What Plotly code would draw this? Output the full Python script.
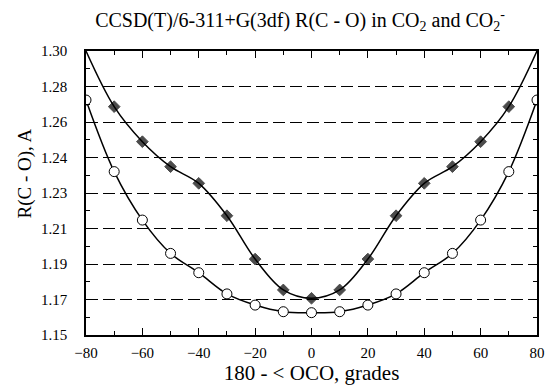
import plotly.graph_objects as go

# Data
angle = [-80, -70, -60, -50, -40, -30, -20, -10, 0, 10, 20, 30, 40, 50, 60, 70, 80]
r_anion = [1.300, 1.2706, 1.2521, 1.2389, 1.2301, 1.2130, 1.1901, 1.1738, 1.1694,
           1.1738, 1.1901, 1.2130, 1.2301, 1.2389, 1.2521, 1.2706, 1.300]
r_neutral = [1.2741, 1.2363, 1.2107, 1.1931, 1.1829, 1.1717, 1.1658, 1.1623, 1.1618,
             1.1623, 1.1658, 1.1717, 1.1829, 1.1931, 1.2107, 1.2363, 1.2741]

y_tickvals = [1.15, 1.16875, 1.1875, 1.20625, 1.225, 1.24375, 1.2625, 1.28125, 1.30]
y_ticktext = ["1.15", "1.17", "1.19", "1.21", "1.23", "1.24", "1.26", "1.28", "1.30"]
x_tickvals = [-80, -60, -40, -20, 0, 20, 40, 60, 80]

FONT = "Liberation Serif, Times New Roman, serif"

# the end points of the anion curve sit in the plot corners without a marker
anion_marker_sizes = [0] + [9] * (len(angle) - 2) + [0]

fig = go.Figure()
fig.add_trace(go.Scatter(
    x=angle, y=r_anion, mode="lines+markers",
    line=dict(color="black", width=1.5, shape="spline", smoothing=1.0),
    marker=dict(symbol="diamond", size=anion_marker_sizes, color="black", line=dict(color="black", width=1)),
    showlegend=False, hoverinfo="skip",
))
fig.add_trace(go.Scatter(
    x=angle, y=r_neutral, mode="lines+markers",
    line=dict(color="black", width=1.5, shape="spline", smoothing=1.0),
    marker=dict(symbol="circle", size=10, color="white", line=dict(color="black", width=1)),
    showlegend=False, hoverinfo="skip",
))

fig.update_layout(
    width=553, height=387,
    margin=dict(l=86, r=8, t=51, b=52),
    paper_bgcolor="white", plot_bgcolor="white",
    font=dict(family=FONT, color="black", size=15),
    title=dict(text="CCSD(T)/6-311+G(3df) R(C - O) in CO<sub>2</sub> and CO<sub>2</sub><sup>-</sup>",
               x=0.5425, xanchor="center", yref="container", y=0.948, yanchor="middle",
               font=dict(family=FONT, size=20, color="black")),
    xaxis=dict(
        range=[-80, 80], tickvals=x_tickvals, ticks="inside", ticklen=7, tickcolor="black",
        showline=True, linecolor="black", linewidth=1.5, mirror="ticks",
        showgrid=False, zeroline=False, ticklabelstandoff=3,
        minor=dict(ticks="inside", ticklen=4, dtick=10, tick0=-80, tickcolor="black", showgrid=False),
        title=dict(text="180 - &lt; OCO, grades", font=dict(family=FONT, size=21), standoff=4),
        tickfont=dict(family=FONT, size=15),
    ),
    yaxis=dict(
        range=[1.15, 1.30], tickvals=y_tickvals, ticktext=y_ticktext, ticks="inside", ticklen=7,
        tickcolor="black", showline=True, linecolor="black", linewidth=1.5, mirror="ticks",
        showgrid=True, gridcolor="black", gridwidth=1, griddash="12px,5px", zeroline=False,
        ticklabelstandoff=14,
        minor=dict(ticks="inside", ticklen=4, dtick=0.009375, tick0=1.15, tickcolor="black", showgrid=False),
        tickfont=dict(family=FONT, size=15),
    ),
    annotations=[dict(
        text="R(C - O), A", textangle=-90, xref="paper", yref="paper",
        x=-0.135, y=0.569, xanchor="center", yanchor="middle", showarrow=False,
        font=dict(family=FONT, size=19, color="black"),
    )],
)

fig.write_html("out.html", config={"displayModeBar": False},
               post_script="document.body.style.margin='0px';")
